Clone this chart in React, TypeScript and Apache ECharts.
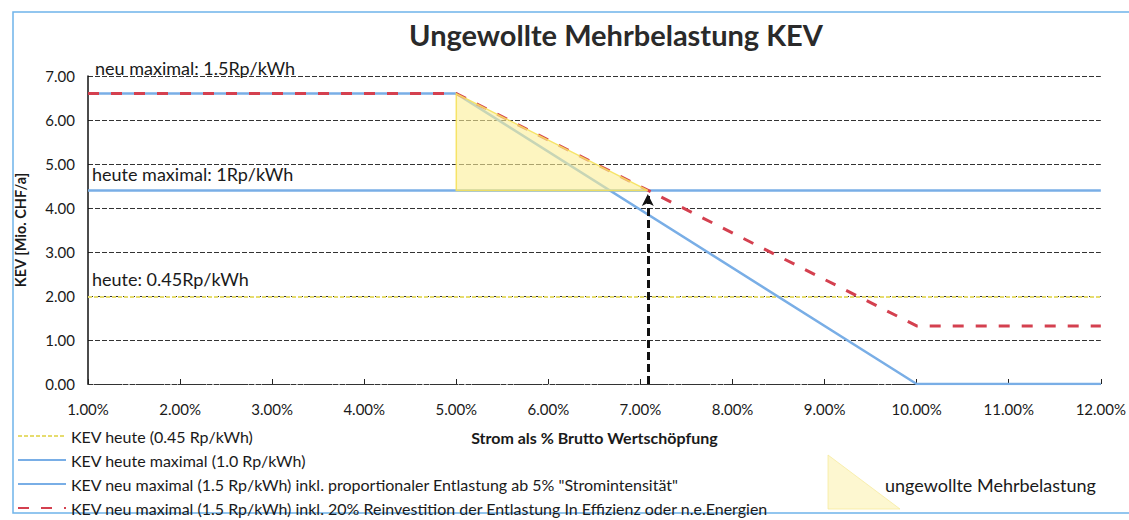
import React, { useEffect, useRef } from "react";
import * as echarts from "echarts";

// Data (x in % Strom als Anteil Brutto-Wertschöpfung, y in Mio. CHF/a)
const heuteX = [1, 12];
const heuteY = [1.98, 1.98];
const heuteMaxX = [1, 12];
const heuteMaxY = [4.4, 4.4];
const neuMaxX = [1, 5, 10, 12];
const neuMaxY = [6.6, 6.6, 0, 0];
const neuReinvX = [1, 5, 10, 12];
const neuReinvY = [6.6, 6.6, 1.32, 1.32];
const triX = [5, 5, 7.08];
const triY = [6.6, 4.4, 4.4];
const arrowX = 7.08;
const arrowY = [0, 4.32];

const seriesNames = [
  "KEV heute (0.45 Rp/kWh)",
  "KEV heute maximal (1.0 Rp/kWh)",
  'KEV neu maximal (1.5 Rp/kWh) inkl. proportionaler Entlastung ab 5% "Stromintensität"',
  "KEV neu maximal (1.5 Rp/kWh) inkl. 20% Reinvestition der Entlastung In Effizienz oder n.e.Energien",
];
const annotations = [
  { text: "neu maximal: 1.5Rp/kWh", x: 95, y: 70 },
  { text: "heute maximal: 1Rp/kWh", x: 92, y: 176 },
  { text: "heute: 0.45Rp/kWh", x: 92, y: 281 },
];

const zip = (xs: number[], ys: number[]) => xs.map((x, i) => [x, ys[i]]);
const FONT = "Lato, 'Open Sans', sans-serif";

export default function App() {
  const ref = useRef<HTMLDivElement>(null);
  useEffect(() => {
    document.body.style.margin = "0";
    const chart = echarts.init(ref.current!, null, { renderer: "svg" });
    const blue = "#79aee6";
    const legends = seriesNames.map((n, i) => ({
      orient: "vertical",
      left: 17,
      top: 428 + 24 * i,
      padding: 0,
      itemWidth: 48,
      itemHeight: 10,
      data: [n],
      itemStyle: { opacity: 0 },
      textStyle: { fontFamily: FONT, fontSize: 16, color: "#1a1a1a" },
    }));
    const option: any = {
      animation: false,
      backgroundColor: "#ffffff",
      textStyle: { fontFamily: FONT },
      title: {
        text: "Ungewollte Mehrbelastung KEV",
        left: 611,
        textAlign: "center",
        top: 15,
        textStyle: { fontFamily: FONT, fontSize: 29, fontWeight: "bold", color: "#2a2a2a" },
      },
      grid: { left: 88, right: 23, top: 76, bottom: 136 },
      legend: legends,
      xAxis: {
        type: "value",
        min: 1,
        max: 12,
        interval: 1,
        name: "Strom als % Brutto Wertschöpfung",
        nameLocation: "middle",
        nameGap: 45,
        nameTextStyle: { fontFamily: FONT, fontSize: 16, fontWeight: "bold", color: "#1a1a1a" },
        axisLine: { show: true, lineStyle: { color: "#333", width: 1, type: [4, 2] } },
        axisTick: { show: true, inside: true, length: 5, lineStyle: { color: "#222" } },
        axisLabel: {
          margin: 17,
          fontSize: 15,
          color: "#1a1a1a",
          fontFamily: FONT,
          formatter: (v: number) => v.toFixed(2) + "%",
        },
        splitLine: { show: false },
      },
      yAxis: {
        type: "value",
        min: 0,
        max: 7,
        interval: 1,
        name: "KEV [Mio. CHF/a]",
        nameLocation: "middle",
        nameGap: 60,
        nameTextStyle: { fontFamily: FONT, fontSize: 14.5, fontWeight: "bold", color: "#1a1a1a" },
        axisLine: { show: true, lineStyle: { color: "#111", width: 1.5 } },
        axisTick: { show: false },
        axisLabel: {
          margin: 13,
          fontSize: 15,
          color: "#1a1a1a",
          fontFamily: FONT,
          formatter: (v: number) => v.toFixed(2),
        },
        splitLine: { show: true, lineStyle: { color: "#333", width: 1, type: [5, 2] } },
      },
      series: [
        {
          name: seriesNames[0],
          type: "line",
          data: zip(heuteX, heuteY),
          symbol: "none",
          lineStyle: { color: "#e6dc6e", width: 2, type: [4, 2] },
          itemStyle: { color: "#e6dc6e" },
          z: 3,
        },
        {
          name: seriesNames[1],
          type: "line",
          data: zip(heuteMaxX, heuteMaxY),
          symbol: "none",
          lineStyle: { color: blue, width: 2.5 },
          itemStyle: { color: blue },
          z: 3,
        },
        {
          name: seriesNames[2],
          type: "line",
          data: zip(neuMaxX, neuMaxY),
          symbol: "none",
          lineStyle: { color: blue, width: 2.5 },
          itemStyle: { color: blue },
          z: 4,
        },
        {
          name: seriesNames[3],
          type: "line",
          data: zip(neuReinvX, neuReinvY),
          symbol: "none",
          lineStyle: { color: "#d4404f", width: 3, type: [11, 12] },
          itemStyle: { color: "#d4404f" },
          z: 5,
        },
        {
          name: "ungewollte Mehrbelastung",
          type: "custom",
          data: [[triX[0], triY[0]]],
          z: 6,
          renderItem: (_params: any, api: any) => {
            const pts = triX.map((x, i) => api.coord([x, triY[i]]));
            return {
              type: "polygon",
              shape: { points: pts },
              style: { fill: "rgba(252,238,150,0.6)", stroke: "rgba(245,225,90,0.9)", lineWidth: 1.5 },
            };
          },
        },
        {
          name: "arrow",
          type: "line",
          data: [],
          z: 7,
          markLine: {
            silent: true,
            symbol: ["none", "arrow"],
            symbolSize: [9, 12],
            label: { show: false },
            lineStyle: { color: "#111", width: 3, type: [8, 4] },
            data: [[{ coord: [arrowX, arrowY[0]] }, { coord: [arrowX, arrowY[1]] }]],
          },
        },
      ],
      graphic: [
        {
          type: "rect",
          z: -1,
          shape: { x: 13, y: 12, width: 1130, height: 501 },
          style: { fill: "none", stroke: "#6fb4ea", lineWidth: 1.5 },
          silent: true,
        },
        ...annotations.map((a) => ({
          type: "text",
          left: a.x,
          top: a.y - 11,
          style: { text: a.text, fontFamily: FONT, fontSize: 18, fill: "#1a1a1a" },
        })),
        {
          type: "polygon",
          shape: { points: [[828, 455], [828, 509], [900, 509]] },
          style: { fill: "rgba(252,240,170,0.55)", stroke: "rgba(245,232,150,0.7)", lineWidth: 1 },
        },
        {
          type: "text",
          left: 885,
          top: 476,
          style: { text: "ungewollte Mehrbelastung", fontFamily: FONT, fontSize: 18, fill: "#1a1a1a" },
        },
      ],
    };
    chart.setOption(option);
    return () => chart.dispose();
  }, []);
  return <div ref={ref} style={{ width: 1129, height: 520 }} />;
}
